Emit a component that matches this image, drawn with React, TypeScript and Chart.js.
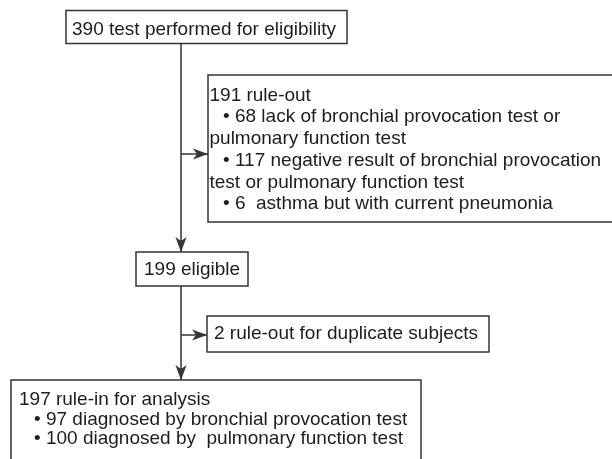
import React, { useEffect, useRef } from "react";
import { Chart, registerables } from "chart.js";

Chart.register(...registerables);

// ---- Flowchart content (data) ----
const box1Lines = ["390 test performed for eligibility"];
const box2Lines = [
  "191 rule-out",
  "  • 68 lack of bronchial provocation test or",
  "pulmonary function test",
  "  • 117 negative result of bronchial provocation",
  "test or pulmonary function test",
  "  • 6  asthma but with current pneumonia",
];
const box3Lines = ["199 eligible"];
const box4Lines = ["2 rule-out for duplicate subjects"];
const box5Lines = [
  "197 rule-in for analysis",
  "  • 97 diagnosed by bronchial provocation test",
  "  • 100 diagnosed by  pulmonary function test",
];

// ---- Layout in flow-space units (x: 0..612, y: 0..459 downward) ----
type Box = { lines: string[]; x0: number; y0: number; x1: number; y1: number; tx: number; ty: number; lh: number; indent: number };
const boxes: Box[] = [
  { lines: box1Lines, x0: 66, y0: 10.5, x1: 347, y1: 43.5, tx: 72, ty: 29.5, lh: 21.7, indent: 0 },
  { lines: box2Lines, x0: 208, y0: 75, x1: 640, y1: 222, tx: 209.5, ty: 95.5, lh: 21.7, indent: 13.5 },
  { lines: box3Lines, x0: 136, y0: 252, x1: 248, y1: 286, tx: 144, ty: 270, lh: 21.7, indent: 0 },
  { lines: box4Lines, x0: 207, y0: 316, x1: 489, y1: 352, tx: 214, ty: 334, lh: 21.7, indent: 0 },
  { lines: box5Lines, x0: 11, y0: 380, x1: 421, y1: 480, tx: 19, ty: 400, lh: 19.4, indent: 15 },
];

// connectors: [x0, y0, x1, y1, arrow]
const connectors: [number, number, number, number, boolean][] = [
  [181, 43.5, 181, 252, true],
  [181, 154, 208, 154, true],
  [181, 286, 181, 380, true],
  [181, 335, 207, 335, true],
];

const LINE = "#353535";
const TEXT = "#1e1c1d";
const FONT = '19px "Liberation Sans", Arial, Helvetica, sans-serif';

const flowPlugin = {
  id: "flow",
  afterDatasetsDraw(chart: any) {
    const { ctx, scales } = chart;
    const X = (v: number) => scales.x.getPixelForValue(v);
    const Y = (v: number) => scales.y.getPixelForValue(v);
    ctx.save();
    // boxes
    ctx.lineWidth = 1.5;
    ctx.strokeStyle = LINE;
    boxes.forEach((b) => {
      ctx.fillStyle = "#ffffff";
      ctx.fillRect(X(b.x0), Y(b.y0), X(b.x1) - X(b.x0), Y(b.y1) - Y(b.y0));
      ctx.strokeRect(X(b.x0), Y(b.y0), X(b.x1) - X(b.x0), Y(b.y1) - Y(b.y0));
      ctx.fillStyle = TEXT;
      ctx.font = FONT;
      ctx.textBaseline = "middle";
      ctx.textAlign = "left";
      b.lines.forEach((ln, i) => {
        const bullet = ln.startsWith("  •");
        const t = bullet ? ln.trimStart() : ln;
        ctx.fillText(t, X(b.tx + (bullet ? b.indent : 0)), Y(b.ty + i * b.lh));
      });
    });
    // arrowheads
    ctx.fillStyle = LINE;
    connectors.forEach(([x0, y0, x1, y1, arrow]) => {
      if (!arrow) return;
      const px = X(x1), py = Y(y1);
      const ang = Math.atan2(py - Y(y0), px - X(x0));
      const L = 15, W = 5.6, N = 11;
      ctx.save();
      ctx.translate(px, py);
      ctx.rotate(ang);
      ctx.beginPath();
      ctx.moveTo(0, 0);
      ctx.lineTo(-L, -W);
      ctx.lineTo(-N, 0);
      ctx.lineTo(-L, W);
      ctx.closePath();
      ctx.fill();
      ctx.restore();
    });
    ctx.restore();
  },
};

export default function App() {
  const ref = useRef<HTMLCanvasElement>(null);
  useEffect(() => {
    if (!ref.current) return;
    const chart = new Chart(ref.current, {
      type: "scatter",
      data: {
        datasets: connectors.map(([x0, y0, x1, y1]) => ({
          data: [
            { x: x0, y: y0 },
            { x: x1, y: y1 },
          ],
          showLine: true,
          borderColor: LINE,
          borderWidth: 1.5,
          pointRadius: 0,
          fill: false,
        })),
      },
      options: {
        animation: false,
        responsive: false,
        devicePixelRatio: 1,
        layout: { padding: 0 },
        plugins: { legend: { display: false }, tooltip: { enabled: false } },
        events: [],
        scales: {
          x: { type: "linear", min: 0, max: 612, display: false },
          y: { type: "linear", min: 0, max: 459, reverse: true, display: false },
        },
      },
      plugins: [flowPlugin],
    });
    return () => chart.destroy();
  }, []);
  return (
    <div style={{ position: "fixed", left: 0, top: 0, width: 612, height: 459, background: "#fff" }}>
      <canvas ref={ref} width={612} height={459} style={{ display: "block" }} />
    </div>
  );
}
